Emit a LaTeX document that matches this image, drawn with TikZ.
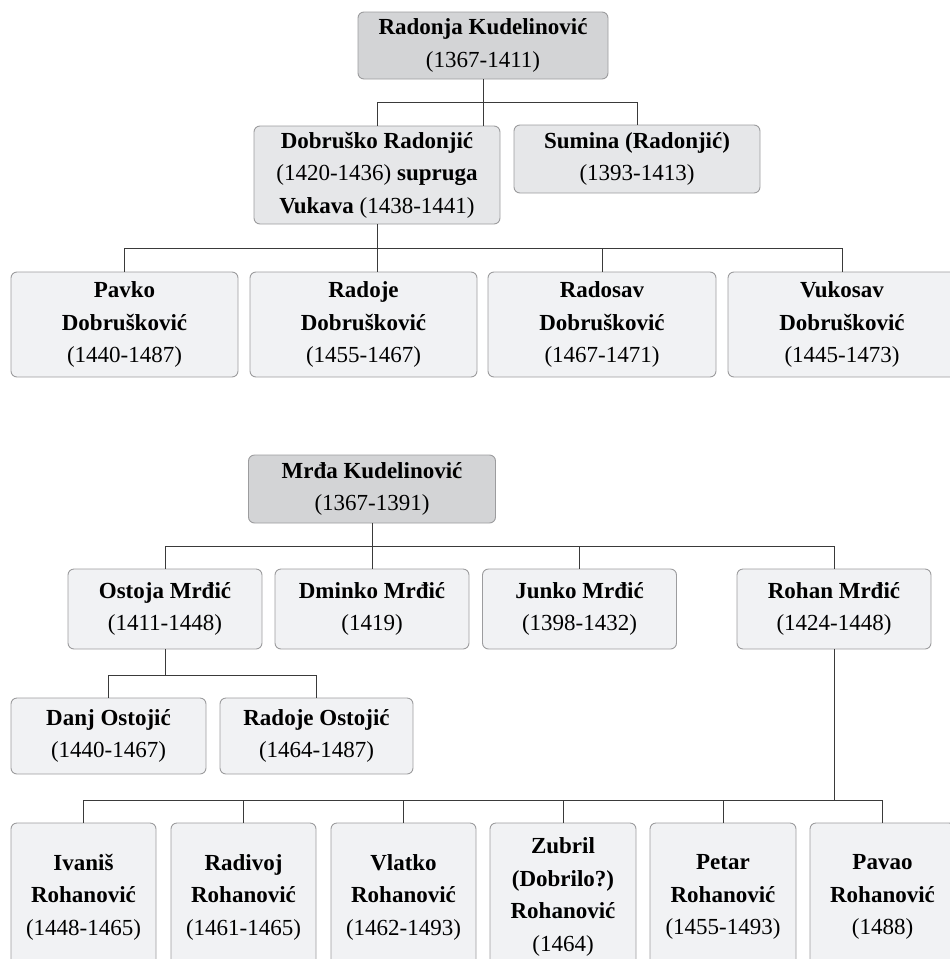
\documentclass[tikz,border=0pt]{standalone}
\usepackage{fontspec}
\setmainfont{Liberation Serif}
\definecolor{rootfill}{HTML}{D3D4D6}
\definecolor{midfill}{HTML}{E6E7E9}
\definecolor{kidfill}{HTML}{F1F2F4}
\definecolor{boxline}{HTML}{9C9C9E}
\definecolor{connline}{HTML}{3A3A3A}
\tikzset{
  box/.style={draw=boxline, fill=kidfill, rounded corners=6pt, line width=0.9pt,
    align=center, inner sep=0pt, font=\fontsize{23}{32.5}\selectfont},
  rootbox/.style={box, fill=rootfill},
  midbox/.style={box, fill=midfill},
  conn/.style={draw=connline, line width=1pt}
}
\begin{document}
\begin{tikzpicture}[x=1pt,y=-1pt]
\useasboundingbox (0,0) rectangle (950,959);
% ---------- section 1 ----------
\node[rootbox, minimum width=250, minimum height=67] (r1) at (483,45.5)
  {\textbf{Radonja Kudelinović}\\(1367-1411)};
\node[midbox, minimum width=246, minimum height=98] (dob) at (377,175)
  {\textbf{Dobruško Radonjić}\\(1420-1436) \textbf{supruga}\\\textbf{Vukava} (1438-1441)};
\node[midbox, minimum width=246, minimum height=68] (sum) at (637,159)
  {\textbf{Sumina (Radonjić)}\\(1393-1413)};
\node[box, minimum width=227, minimum height=105] (pavko) at (124.5,324.5)
  {\textbf{Pavko}\\\textbf{Dobrušković}\\(1440-1487)};
\node[box, minimum width=227, minimum height=105] (radoje) at (363.5,324.5)
  {\textbf{Radoje}\\\textbf{Dobrušković}\\(1455-1467)};
\node[box, minimum width=228, minimum height=105] (radosav) at (602,324.5)
  {\textbf{Radosav}\\\textbf{Dobrušković}\\(1467-1471)};
\node[box, minimum width=228, minimum height=105] (vukosav) at (842,324.5)
  {\textbf{Vukosav}\\\textbf{Dobrušković}\\(1445-1473)};
\coordinate (b1) at (0,102);
\coordinate (b2) at (0,248);
\draw[conn] (r1.south) -- (r1.south |- dob.north);
\draw[conn] (dob.north) |- (b1 -| sum.north) -- (sum.north);
\draw[conn] (dob.south) -- (dob.south |- radoje.north);
\draw[conn] (pavko.north) |- (b2 -| vukosav.north) -- (vukosav.north);
\draw[conn] (radosav.north) -- (radosav.north |- b2);
% ---------- section 2 ----------
\node[rootbox, minimum width=247, minimum height=68] (mrda) at (372,489)
  {\textbf{Mrđa Kudelinović}\\(1367-1391)};
\node[box, minimum width=194, minimum height=80] (ostoja) at (165,609)
  {\textbf{Ostoja Mrđić}\\(1411-1448)};
\node[box, minimum width=194, minimum height=80] (dminko) at (372,609)
  {\textbf{Dminko Mrđić}\\(1419)};
\node[box, minimum width=194, minimum height=80] (junko) at (579.5,609)
  {\textbf{Junko Mrđić}\\(1398-1432)};
\node[box, minimum width=194, minimum height=80] (rohan) at (834,609)
  {\textbf{Rohan Mrđić}\\(1424-1448)};
\node[box, minimum width=195, minimum height=76] (danj) at (108.5,736)
  {\textbf{Danj Ostojić}\\(1440-1467)};
\node[box, minimum width=193, minimum height=76] (radojeo) at (316.5,736)
  {\textbf{Radoje Ostojić}\\(1464-1487)};
\coordinate (b3) at (0,546);
\coordinate (b4) at (0,675);
\coordinate (b5) at (0,800);
\draw[conn] (mrda.south) -- (mrda.south |- dminko.north);
\draw[conn] (ostoja.north) |- (b3 -| rohan.north) -- (rohan.north);
\draw[conn] (junko.north) -- (junko.north |- b3);
\draw[conn] (ostoja.south) -- (ostoja.south |- b4);
\draw[conn] (danj.north) |- (b4 -| radojeo.north) -- (radojeo.north);
% bottom row
\node[box, minimum width=145, minimum height=148] (ivanis) at (83.5,897)
  {\textbf{Ivaniš}\\\textbf{Rohanović}\\(1448-1465)};
\node[box, minimum width=145, minimum height=148] (radivoj) at (243.5,897)
  {\textbf{Radivoj}\\\textbf{Rohanović}\\(1461-1465)};
\node[box, minimum width=145, minimum height=148] (vlatko) at (403.5,897)
  {\textbf{Vlatko}\\\textbf{Rohanović}\\(1462-1493)};
\node[box, minimum width=146, minimum height=148] (zubril) at (563,897)
  {\textbf{Zubril}\\\textbf{(Dobrilo?)}\\\textbf{Rohanović}\\(1464)};
\node[box, minimum width=146, minimum height=148] (petar) at (723,897)
  {\textbf{Petar}\\\textbf{Rohanović}\\(1455-1493)};
\node[box, minimum width=145, minimum height=148] (pavao) at (882.5,897)
  {\textbf{Pavao}\\\textbf{Rohanović}\\(1488)};
\draw[conn] (rohan.south) -- (rohan.south |- b5);
\draw[conn] (ivanis.north) |- (b5 -| pavao.north) -- (pavao.north);
\foreach \k in {radivoj,vlatko,zubril,petar}
  \draw[conn] (\k.north) -- (\k.north |- b5);
\end{tikzpicture}
\end{document}
